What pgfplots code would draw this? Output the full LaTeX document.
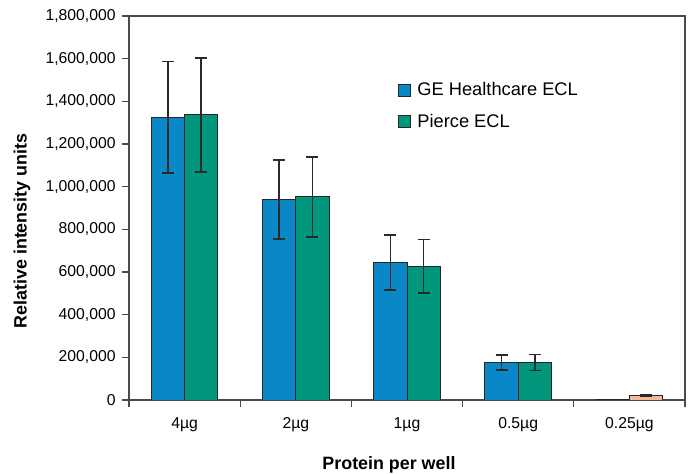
\documentclass[border=0pt]{standalone}
\usepackage{pgfplots}
\pgfplotsset{compat=1.18}
\usepackage{fontspec}
\setmainfont{Liberation Sans}
\definecolor{geblue}{HTML}{0A87C6}
\definecolor{pgreen}{HTML}{00977C}
\definecolor{peach}{HTML}{F3BA98}
\definecolor{framec}{HTML}{4A4A4A}
\definecolor{errc}{HTML}{2A2A2A}
\pgfplotsset{sqleg/.style={legend image code/.code={\draw[##1, line width=0.7pt] (0pt,-4.5pt) rectangle (9pt,4.5pt);}},
  errb/.style={error bars/.cd, y dir=both, y explicit,
    error bar style={draw=errc, line width=1.2pt},
    error mark options={draw=errc, line width=1.2pt, mark size=4.5pt, rotate=90}}}
\begin{document}
\begin{tikzpicture}
\useasboundingbox (-96.75pt,-55.5pt) rectangle (423.75pt,300pt);
\begin{axis}[
  scale only axis, width=417pt, height=288pt,
  at={(0,0)}, anchor=south west,
  xmin=-0.5, xmax=4.5, ymin=0, ymax=1800000,
  axis line style={framec, line width=0.8pt},
  xtick={0,1,2,3,4},
  xticklabels={4µg,2µg,1µg,0.5µg,0.25µg},
  minor xtick={-0.5,0.5,1.5,2.5,3.5,4.5},
  major x tick style={draw=none},
  minor x tick style={framec, line width=0.8pt},
  minor tick length=5.5pt, major tick length=5.5pt,
  tick align=outside, xtick pos=bottom, ytick pos=left,
  ytick={0,200000,...,1800000},
  ytick style={framec, line width=0.8pt},
  scaled y ticks=false,
  /pgf/number format/.cd, fixed, 1000 sep={,}, assume math mode=true,
  /pgfplots/.cd,
  ticklabel style={font=\fontsize{11.8}{14}\selectfont},
  yticklabel style={xshift=-1pt},
  xticklabel style={yshift=-4pt},
  xlabel={Protein per well},
  xlabel style={at={(axis description cs:0.4676,0)}, anchor=north, inner sep=0pt, yshift=-42pt, font=\fontsize{13.4}{16}\selectfont\bfseries},
  ylabel={Relative intensity units},
  ylabel style={at={(axis description cs:-0.1924,0.44)}, anchor=center, inner sep=0pt, font=\fontsize{13.4}{16}\selectfont\bfseries},
  legend style={at={(axis description cs:0.483,0.834)}, anchor=north west, draw=none, fill=none,
    font=\fontsize{13.7}{16}\selectfont, row sep=8.3pt, column sep=3pt, inner sep=0pt},
  legend cell align=left,
  bar width=0.3,
  every error bar/.append style={line width=1.2pt},
]
\addplot[ybar, bar shift=0, fill=geblue, draw=black!85, line width=0.7pt, sqleg, errb]
  table[x=x, y=y, y error=e]{
x y e
-0.15 1325000 261000
0.85 940000 185000
1.85 645000 128000
2.85 176000 34000
};
\addplot[ybar, bar shift=0, fill=pgreen, draw=black!85, line width=0.7pt, sqleg, errb]
  table[x=x, y=y, y error=e]{
x y e
0.15 1337000 267000
1.15 952000 187000
2.15 627000 125000
3.15 176000 37000
};
\addplot[ybar, bar shift=0, fill=geblue, draw=black!85, line width=0.7pt, forget plot]
  table[x=x, y=y]{
x y
3.85 4000
};
\addplot[ybar, bar shift=0, fill=peach, draw=black!85, line width=0.7pt, forget plot, errb]
  table[x=x, y=y, y error=e]{
x y e
4.15 22000 3000
};
\legend{GE Healthcare ECL, Pierce ECL}
\end{axis}
\end{tikzpicture}
\end{document}
